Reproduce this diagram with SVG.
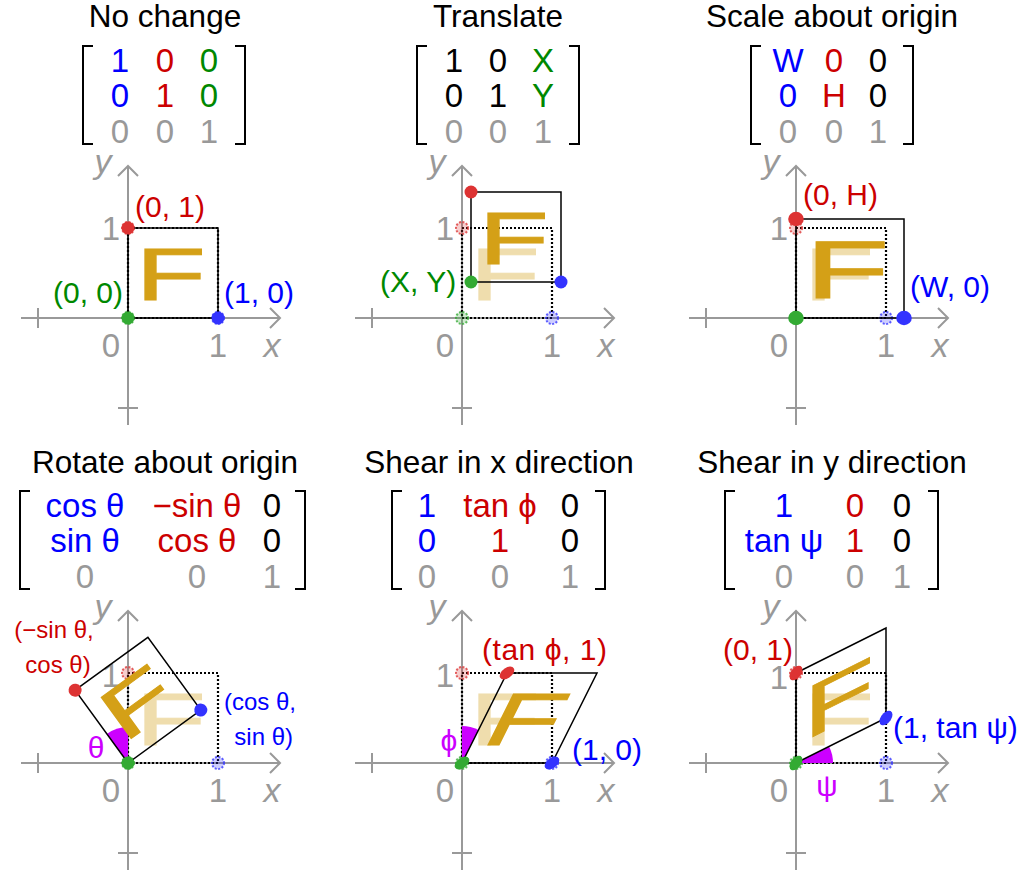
<svg xmlns="http://www.w3.org/2000/svg" width="1027" height="881" viewBox="0 0 1027 881">
<style>
text{font-family:"Liberation Sans",Arial,sans-serif}
.title{font-size:31.5px;text-anchor:middle;fill:#000}
.m{font-size:33px;text-anchor:middle}
.lb{font-size:30px}
.sm{font-size:24px}
.ax{stroke:#999;stroke-width:2;fill:none}
.al{font-size:33px;fill:#999;text-anchor:middle}
.it{font-style:italic;font-size:34px}
.br{stroke:#000;stroke-width:2;fill:none}
.F{font-size:74px;fill:#d4a017;stroke:#d4a017;stroke-width:1}
.Fg{opacity:.35}
.sq{fill:none;stroke:#000;stroke-width:1.5;vector-effect:non-scaling-stroke}
.dq{fill:none;stroke:#000;stroke-width:2.2;stroke-dasharray:2 2}
.r{fill:#cc0000}.b{fill:#0000ff}.g{fill:#008800}.gr{fill:#999}.k{fill:#000}.mg{fill:#cc00ff}
.dR{fill:#dd3333}.dB{fill:#3333ff}.dG{fill:#33aa33}
.gR{fill:#dd3333;fill-opacity:.3;stroke:#dd3333;stroke-width:2;stroke-dasharray:2 1.5;opacity:.8}
.gB{fill:#3333ff;fill-opacity:.3;stroke:#3333ff;stroke-width:2;stroke-dasharray:2 1.5;opacity:.8}
.gG{fill:#33aa33;fill-opacity:.3;stroke:#33aa33;stroke-width:2;stroke-dasharray:2 1.5;opacity:.8}
.wd{fill:#cc00ff}
</style>
<defs>
<g id="axes">
<path class="ax" d="M-107,0H152M142,-10L152,0L142,10M-90,-10V10M0,107V-152M-10,-142L0,-152L10,-142M-10,90H10"/>
</g>
<g id="ghost">
<rect class="dq" x="0" y="-90" width="90" height="90"/>
<circle class="gR" cx="0" cy="-90" r="6"/>
<circle class="gG" cx="0" cy="0" r="6"/>
<circle class="gB" cx="90" cy="0" r="6"/>
</g>
<g id="brTop">
<path class="br" d="M-35,-272H-45V-174H-35M107,-272H117V-174H107"/>
</g>
</defs>

<!-- Panel 1: No change -->
<g id="p1" transform="translate(128,318)">
<text class="title" x="37" y="-291">No change</text>
<use href="#brTop"/>
<text class="m b" x="-8" y="-246">1</text><text class="m r" x="37" y="-246">0</text><text class="m g" x="81" y="-246">0</text>
<text class="m b" x="-8" y="-211">0</text><text class="m r" x="37" y="-211">1</text><text class="m g" x="81" y="-211">0</text>
<text class="m gr" x="-8" y="-175">0</text><text class="m gr" x="37" y="-175">0</text><text class="m gr" x="81" y="-175">1</text>
<use href="#axes"/>
<text class="al" x="-17" y="39">0</text><text class="al" x="90" y="39">1</text>
<text class="al it" x="144" y="39">x</text><text class="al it" x="-25" y="-145">y</text>
<text class="al" x="-17" y="-78">1</text>
<use href="#ghost"/>
<g transform="matrix(1,0,0,1,0,0)">
<text class="F" transform="translate(17,-18) scale(1.55,1)" x="-6" y="0">F</text>
<rect class="sq" x="0" y="-90" width="90" height="90"/>
<circle class="dR" cx="0" cy="-90" r="6.5"/><circle class="dG" cx="0" cy="0" r="6.5"/><circle class="dB" cx="90" cy="0" r="6.5"/>
</g>
<text class="lb r" x="7" y="-101">(0, 1)</text>
<text class="lb g" x="-75" y="-15">(0, 0)</text>
<text class="lb b" x="96" y="-15">(1, 0)</text>
</g>

<!-- Panel 2: Translate -->
<g id="p2" transform="translate(462,318)">
<text class="title" x="36" y="-291">Translate</text>
<use href="#brTop"/>
<text class="m k" x="-8" y="-246">1</text><text class="m k" x="36" y="-246">0</text><text class="m g" x="81" y="-246">X</text>
<text class="m k" x="-8" y="-211">0</text><text class="m k" x="36" y="-211">1</text><text class="m g" x="81" y="-211">Y</text>
<text class="m gr" x="-8" y="-175">0</text><text class="m gr" x="36" y="-175">0</text><text class="m gr" x="81" y="-175">1</text>
<use href="#axes"/>
<text class="al" x="-17" y="39">0</text><text class="al" x="90" y="39">1</text>
<text class="al it" x="144" y="39">x</text><text class="al it" x="-25" y="-145">y</text>
<text class="al" x="-17" y="-78">1</text>
<text class="F Fg" transform="translate(17,-18) scale(1.55,1)" x="-6" y="0">F</text>
<use href="#ghost"/>
<g transform="matrix(1,0,0,1,9,-36)">
<text class="F" transform="translate(17,-18) scale(1.55,1)" x="-6" y="0">F</text>
<rect class="sq" x="0" y="-90" width="90" height="90"/>
<circle class="dR" cx="0" cy="-90" r="6.5"/><circle class="dG" cx="0" cy="0" r="6.5"/><circle class="dB" cx="90" cy="0" r="6.5"/>
</g>
<text class="lb g" x="-82" y="-26">(X, Y)</text>
</g>

<!-- Panel 3: Scale -->
<g id="p3" transform="translate(796,318)">
<text class="title" x="36" y="-291">Scale about origin</text>
<use href="#brTop"/>
<text class="m b" x="-8" y="-246">W</text><text class="m r" x="38" y="-246">0</text><text class="m k" x="82" y="-246">0</text>
<text class="m b" x="-8" y="-211">0</text><text class="m r" x="38" y="-211">H</text><text class="m k" x="82" y="-211">0</text>
<text class="m gr" x="-8" y="-175">0</text><text class="m gr" x="38" y="-175">0</text><text class="m gr" x="82" y="-175">1</text>
<use href="#axes"/>
<text class="al" x="-17" y="39">0</text><text class="al" x="90" y="39">1</text>
<text class="al it" x="144" y="39">x</text><text class="al it" x="-25" y="-145">y</text>
<text class="al" x="-17" y="-78">1</text>
<text class="F Fg" transform="translate(17,-18) scale(1.55,1)" x="-6" y="0">F</text>
<use href="#ghost"/>
<g transform="matrix(1.2,0,0,1.1,0,0)">
<text class="F" transform="translate(17,-18) scale(1.55,1)" x="-6" y="0">F</text>
<rect class="sq" x="0" y="-90" width="90" height="90"/>
<circle class="dR" cx="0" cy="-90" r="6.5"/><circle class="dG" cx="0" cy="0" r="6.5"/><circle class="dB" cx="90" cy="0" r="6.5"/>
</g>
<text class="lb r" x="7" y="-113">(0, H)</text>
<text class="lb b" x="114" y="-21">(W, 0)</text>
</g>

<!-- Panel 4: Rotate -->
<g id="p4" transform="translate(128,763)">
<text class="title" x="37" y="-290">Rotate about origin</text>
<path class="br" d="M-98,-272H-108V-174H-98M167,-272H177V-174H167"/>
<text class="m b" x="-43" y="-246">cos θ</text><text class="m r" x="69" y="-246">−sin θ</text><text class="m k" x="144" y="-246">0</text>
<text class="m b" x="-43" y="-211">sin θ</text><text class="m r" x="69" y="-211">cos θ</text><text class="m k" x="144" y="-211">0</text>
<text class="m gr" x="-43" y="-175">0</text><text class="m gr" x="69" y="-175">0</text><text class="m gr" x="144" y="-175">1</text>
<use href="#axes"/>
<text class="al" x="-17" y="39">0</text><text class="al" x="90" y="39">1</text>
<text class="al it" x="144" y="39">x</text><text class="al it" x="-25" y="-145">y</text>
<text class="al" x="-17" y="-76">1</text>
<text class="F Fg" transform="translate(17,-18) scale(1.55,1)" x="-6" y="0">F</text>
<use href="#ghost"/>
<path class="wd" d="M0,0V-36A36,36 0 0 0 -21.2,-29.1Z"/>
<g transform="matrix(0.809,-0.588,0.588,0.809,0,0)">
<text class="F" transform="translate(17,-18) scale(1.55,1)" x="-6" y="0">F</text>
<rect class="sq" x="0" y="-90" width="90" height="90"/>
<circle class="dR" cx="0" cy="-90" r="6.5"/><circle class="dG" cx="0" cy="0" r="6.5"/><circle class="dB" cx="90" cy="0" r="6.5"/>
</g>
<text class="sm r" x="-74" y="-125" text-anchor="middle">(−sin θ,</text>
<text class="sm r" x="-70" y="-90" text-anchor="middle">cos θ)</text>
<text class="sm b" x="168" y="-53" text-anchor="end">(cos θ,</text>
<text class="sm b" x="165" y="-18" text-anchor="end">sin θ)</text>
<text class="lb mg" x="-32" y="-5" text-anchor="middle">θ</text>
</g>

<!-- Panel 5: Shear x -->
<g id="p5" transform="translate(462,763)">
<text class="title" x="37" y="-290">Shear in x direction</text>
<path class="br" d="M-60,-272H-70V-174H-60M133,-272H143V-174H133"/>
<text class="m b" x="-35" y="-246">1</text><text class="m r" x="38" y="-246">tan ϕ</text><text class="m k" x="108" y="-246">0</text>
<text class="m b" x="-35" y="-211">0</text><text class="m r" x="38" y="-211">1</text><text class="m k" x="108" y="-211">0</text>
<text class="m gr" x="-35" y="-175">0</text><text class="m gr" x="38" y="-175">0</text><text class="m gr" x="108" y="-175">1</text>
<use href="#axes"/>
<text class="al" x="-17" y="39">0</text><text class="al" x="90" y="39">1</text>
<text class="al it" x="144" y="39">x</text><text class="al it" x="-25" y="-145">y</text>
<text class="al" x="-17" y="-76">1</text>
<text class="F Fg" transform="translate(17,-18) scale(1.55,1)" x="-6" y="0">F</text>
<use href="#ghost"/>
<path class="wd" d="M0,0V-37A37,37 0 0 1 16.5,-33.1Z"/>
<g transform="matrix(1,0,-0.5,1,0,0)">
<text class="F" transform="translate(17,-18) scale(1.55,1)" x="-6" y="0">F</text>
<rect class="sq" x="0" y="-90" width="90" height="90"/>
<circle class="dR" cx="0" cy="-90" r="6.5"/><circle class="dG" cx="0" cy="0" r="6.5"/><circle class="dB" cx="90" cy="0" r="6.5"/>
</g>
<text class="lb r" x="20" y="-103" textLength="125">(tan ϕ, 1)</text>
<text class="lb b" x="110" y="-3">(1, 0)</text>
<text class="lb mg" x="-13" y="-12" text-anchor="middle">ϕ</text>
</g>

<!-- Panel 6: Shear y -->
<g id="p6" transform="translate(796,763)">
<text class="title" x="36" y="-290">Shear in y direction</text>
<path class="br" d="M-61,-272H-71V-174H-61M132,-272H142V-174H132"/>
<text class="m b" x="-12" y="-246">1</text><text class="m r" x="59" y="-246">0</text><text class="m k" x="106" y="-246">0</text>
<text class="m b" x="-12" y="-211">tan ψ</text><text class="m r" x="59" y="-211">1</text><text class="m k" x="106" y="-211">0</text>
<text class="m gr" x="-12" y="-175">0</text><text class="m gr" x="59" y="-175">0</text><text class="m gr" x="106" y="-175">1</text>
<use href="#axes"/>
<text class="al" x="-17" y="39">0</text><text class="al" x="90" y="39">1</text>
<text class="al it" x="144" y="39">x</text><text class="al it" x="-25" y="-145">y</text>
<text class="al" x="-17" y="-74">1</text>
<text class="F Fg" transform="translate(17,-18) scale(1.55,1)" x="-6" y="0">F</text>
<use href="#ghost"/>
<path class="wd" d="M0,0H37A37,37 0 0 0 33.1,-16.5Z"/>
<g transform="matrix(1,-0.5,0,1,0,0)">
<text class="F" transform="translate(17,-18) scale(1.55,1)" x="-6" y="0">F</text>
<rect class="sq" x="0" y="-90" width="90" height="90"/>
<circle class="dR" cx="0" cy="-90" r="6.5"/><circle class="dG" cx="0" cy="0" r="6.5"/><circle class="dB" cx="90" cy="0" r="6.5"/>
</g>
<text class="lb r" x="-73" y="-103">(0, 1)</text>
<text class="lb b" x="97" y="-25">(1, tan ψ)</text>
<text class="lb mg" x="31" y="33" text-anchor="middle">ψ</text>
</g>
</svg>
